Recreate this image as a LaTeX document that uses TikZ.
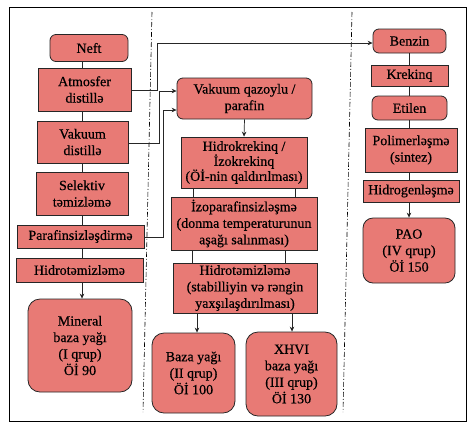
\documentclass[tikz,border=0pt]{standalone}
\usepackage{fontspec}
\setmainfont{Liberation Serif}
\newfontfamily\boxfont{Liberation Serif}[FakeBold=0.5]
\usetikzlibrary{arrows.meta}
\definecolor{boxfill}{RGB}{232,122,117}
\begin{document}
\begin{tikzpicture}[x=1pt,y=-1pt,
  box/.style={draw=black!85, line width=0.8pt, fill=boxfill, inner sep=0pt, align=center,
              font=\boxfont\fontsize{14}{16.5}\selectfont},
  rbox/.style={box, rounded corners=6pt},
  bigr/.style={box, rounded corners=12pt},
  conn/.style={line width=0.7pt, draw=black!85},
  arr/.style={conn, -{Stealth[length=5pt,width=4.5pt]}},
  sep/.style={line width=0.6pt, dash pattern=on 5pt off 2pt on 1pt off 2pt}]
\useasboundingbox (0,0) rectangle (470,424);
% frame
\draw[line width=0.9pt] (9,7) rectangle (466,421);
\draw[sep] (152,12) -- (143,412);
\draw[sep] (352,12) -- (343,412);
% left column
\node[rbox, minimum width=78pt, minimum height=27pt] (neft) at (89,48) {Neft};
\node[box, minimum width=93pt, minimum height=43pt] (atm) at (84.5,89.5) {Atmosfer\\distillə};
\node[box, minimum width=91pt, minimum height=42pt] (vak) at (82.5,142) {Vakuum\\distillə};
\node[box, minimum width=92pt, minimum height=43pt] (sel) at (82,193.5) {Selektiv\\təmizləmə};
\node[box, minimum width=127pt, minimum height=23pt] (par) at (80.5,236.5) {Parafinsizləşdirmə};
\node[box, minimum width=127pt, minimum height=24pt] (hid) at (79.5,270) {Hidrotəmizləmə};
\node[bigr, minimum width=104pt, minimum height=93pt] (min) at (80,345.5) {Mineral\\baza yağı\\(I qrup)\\Öİ 90};
\coordinate (lx) at (82,0);
\draw[conn] (neft.south -| lx) -- (atm.north -| lx);
\draw[conn] (atm.south -| lx) -- (vak.north -| lx);
\draw[conn] (vak.south -| lx) -- (sel.north -| lx);
\draw[conn] (sel.south -| lx) -- (par.north -| lx);
\draw[conn] (par.south -| lx) -- (hid.north -| lx);
\draw[arr] (hid.south -| lx) -- (min.north -| lx);
% middle column
\node[rbox, minimum width=135pt, minimum height=41pt] (vq) at (244.5,98.5) {Vakuum qazoylu /\\parafin};
\node[box, minimum width=126pt, minimum height=51pt, font=\boxfont\fontsize{14}{15}\selectfont] (hk) at (244,162.5) {Hidrokrekinq /\\İzokrekinq\\(Öİ-nin qaldırılması)};
\node[box, minimum width=146pt, minimum height=53pt] (izo) at (244,223.5) {İzoparafinsizləşmə\\(donma temperaturunun\\aşağı salınması)};
\node[box, minimum width=144pt, minimum height=50pt] (hm) at (245,288) {Hidrotəmizləmə\\(stabilliyin və rəngin\\yaxşılaşdırılması)};
\node[bigr, minimum width=83pt, minimum height=80pt] (baza) at (193.5,373) {Baza yağı\\(II qrup)\\Öİ 100};
\node[bigr, minimum width=91pt, minimum height=84pt] (xhvi) at (291.5,374) {XHVI\\baza yağı\\(III qrup)\\Öİ 130};
\coordinate (m1) at (193,0);
\coordinate (m2) at (295,0);
\coordinate (m3) at (192,0);
\coordinate (m4) at (285,0);
\coordinate (m5) at (197,0);
\coordinate (m6) at (292,0);
\draw[arr] (vq.south) -- (hk.north);
\draw[conn] (hk.south -| m1) -- (izo.north -| m1);
\draw[conn] (hk.south -| m2) -- (izo.north -| m2);
\draw[conn] (izo.south -| m3) -- (hm.north -| m3);
\draw[conn] (izo.south -| m4) -- (hm.north -| m4);
\draw[arr] (hm.south -| m5) -- (baza.north -| m5);
\draw[arr] (hm.south -| m6) -- (xhvi.north -| m6);
% right column
\node[rbox, minimum width=73pt, minimum height=24pt] (benz) at (409.5,41) {Benzin};
\node[box, minimum width=77pt, minimum height=21pt] (krek) at (409.5,75.5) {Krekinq};
\node[rbox, minimum width=75pt, minimum height=24pt] (etil) at (409.5,108) {Etilen};
\node[box, minimum width=92pt, minimum height=44pt] (poli) at (411,150) {Polimerləşmə\\(sintez)};
\node[box, minimum width=96pt, minimum height=22pt] (hgen) at (411,191) {Hidrogenləşmə};
\node[bigr, rounded corners=10pt, minimum width=92pt, minimum height=65pt] (pao) at (409,250.5) {PAO\\(IV qrup)\\Öİ 150};
\coordinate (rx) at (409,0);
\draw[conn] (benz.south -| rx) -- (krek.north -| rx);
\draw[conn] (krek.south -| rx) -- (etil.north -| rx);
\draw[conn] (etil.south -| rx) -- (poli.north -| rx);
\draw[conn] (poli.south -| rx) -- (hgen.north -| rx);
\draw[arr] (hgen.south -| rx) -- (pao.north -| rx);
% cross connectors
\coordinate (c1) at (157,90);
\coordinate (c2) at (159,143);
\coordinate (c3) at (163,237);
\coordinate (e1) at (0,43);
\coordinate (e2) at (0,91);
\coordinate (e3) at (0,110);
\draw[arr] (atm.east |- c1) -- (c1) |- (benz.west |- e1);
\draw[arr] (vak.east |- c2) -- (c2) |- (vq.west |- e2);
\draw[arr] (par.east |- c3) -- (c3) |- (vq.west |- e3);
\end{tikzpicture}
\end{document}
